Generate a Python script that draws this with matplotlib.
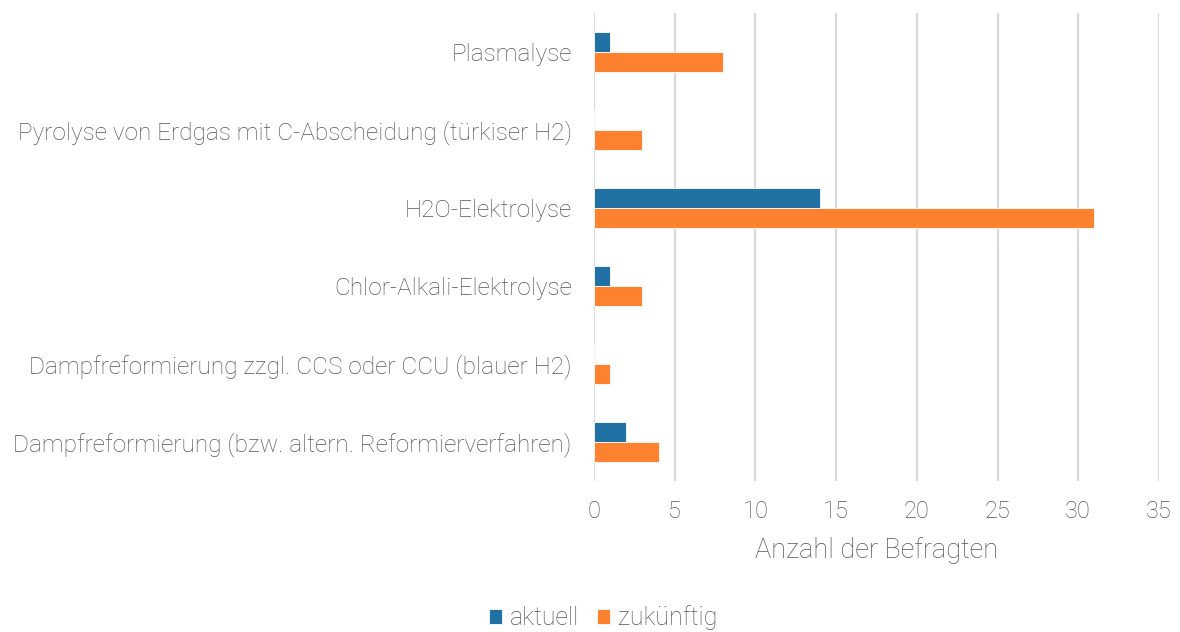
import matplotlib
matplotlib.use("Agg")
import matplotlib.pyplot as plt
import numpy as np

categories = [
    "Dampfreformierung (bzw. altern. Reformierverfahren)",
    "Dampfreformierung zzgl. CCS oder CCU (blauer H2)",
    "Chlor-Alkali-Elektrolyse",
    "H2O-Elektrolyse",
    "Pyrolyse von Erdgas mit C-Abscheidung (türkiser H2)",
    "Plasmalyse",
]
aktuell = [2, 0, 1, 14, 0, 1]
zukuenftig = [4, 1, 3, 31, 3, 8]
xticks = [0, 5, 10, 15, 20, 25, 30, 35]

plt.rcParams['font.family'] = ['Roboto', 'DejaVu Sans']
plt.rcParams['font.weight'] = 'light'
txt = '#555555'

fig = plt.figure(figsize=(11.8, 6.32), dpi=100)
ax = fig.add_axes([594/1180, 1-481/632, (1159-594)/1180, (481-13)/632])

y = np.arange(len(categories))
h = 0.26
ax.barh(y + h/2, aktuell, height=h, color='#2271a5', edgecolor='white', linewidth=0.6, label='aktuell', zorder=3)
ax.barh(y - h/2, zukuenftig, height=h, color='#fe8130', edgecolor='white', linewidth=0.6, label='zukünftig', zorder=3)

ax.set_xlim(0, 35)
ax.set_ylim(-0.5, len(categories) - 0.5)
ax.set_xticks(xticks)
ax.set_xticklabels([str(t) for t in xticks], fontsize=17, color=txt, fontweight='light')
ax.set_yticks(y)
ax.set_yticklabels(categories, fontsize=17.6, color=txt, fontweight='light')
ax.tick_params(axis='both', length=0)
ax.tick_params(axis='y', pad=16)
ax.tick_params(axis='x', pad=14)
for s in ax.spines.values():
    s.set_visible(False)
ax.grid(axis='x', color='#d9d9d9', linewidth=1.6, zorder=0)
ax.set_axisbelow(True)
ax.set_xlabel('Anzahl der Befragten', fontsize=19.5, color=txt, fontweight='light', labelpad=10)

fig.legend(loc='center', bbox_to_anchor=(603/1180, 1-618/632), ncol=2, frameon=False,
           prop={'family': ['Roboto', 'DejaVu Sans'], 'weight': 'light', 'size': 18},
           labelcolor=txt, handlelength=0.55, handleheight=0.55, handletextpad=0.3, columnspacing=0.7)

fig.savefig('out.png', dpi=100)
